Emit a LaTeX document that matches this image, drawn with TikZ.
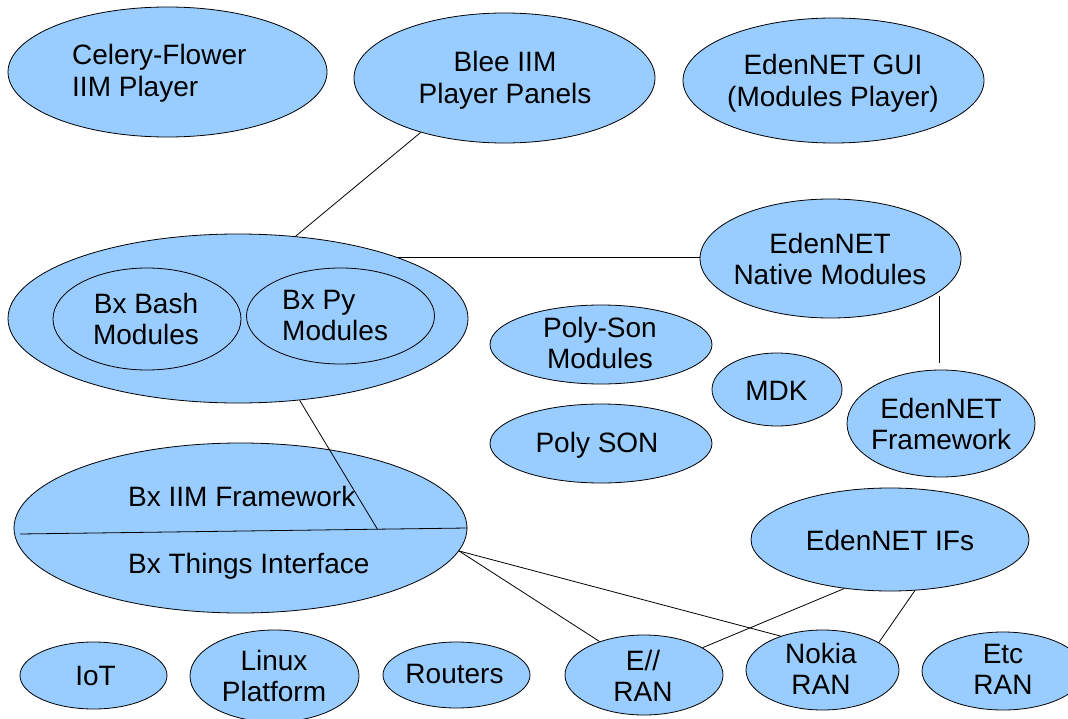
\documentclass[tikz,border=0pt]{standalone}
\usepackage{fontspec}
\setmainfont{Liberation Sans}
\usetikzlibrary{shapes.geometric,calc}
\definecolor{bubblue}{HTML}{99CCFF}
\begin{document}
\begin{tikzpicture}[x=1bp,y=-1bp,
  bub/.style={ellipse, draw=black, line width=0.8bp, fill=bubblue, inner sep=0pt},
  lbl/.style={inner sep=0pt, font=\fontsize{28bp}{31.5bp}\selectfont, align=center, anchor=base},
  lbll/.style={lbl, align=left, anchor=base west},
  conn/.style={draw=black, line width=0.8bp}]
\useasboundingbox (0,0) rectangle (1068,719);
\fill[white] (0,0) rectangle (1068,719);

% top row (text positions are at the baseline of the last line)
\node[bub, minimum width=319bp, minimum height=130bp] (celery) at (167.5,72) {};
\node[lbll] (celery-t) at (72,96.5) {Celery-Flower\\IIM Player};
\node[bub, minimum width=301bp, minimum height=130bp] (blee) at (504.5,78) {};
\node[lbl] (blee-t) at (505,103.5) {Blee IIM\\Player Panels};
\node[bub, minimum width=301bp, minimum height=125bp] (gui) at (833.5,80.5) {};
\node[lbl] (gui-t) at (833,106.5) {EdenNET GUI\\(Modules Player)};

% Bx modules
\node[bub, minimum width=460bp, minimum height=169bp] (bxmods) at (238,318.5) {};
\node[bub, minimum width=188bp, minimum height=102bp] (bash) at (147,319) {};
\node[lbl] (bash-t) at (146,344.5) {Bx Bash\\Modules};
\node[bub, minimum width=188bp, minimum height=96bp] (py) at (340.5,316) {};
\node[lbll] (py-t) at (282,340.5) {Bx Py\\Modules};

% EdenNET side
\node[bub, minimum width=261bp, minimum height=119bp] (native) at (830.5,258.5) {};
\node[lbl] (native-t) at (830,284.5) {EdenNET\\Native Modules};
\node[bub, minimum width=222bp, minimum height=79bp] (psm) at (601,344.5) {};
\node[lbl] (psm-t) at (600,368.5) {Poly-Son\\Modules};
\node[bub, minimum width=130bp, minimum height=73bp] (mdk) at (777,389.5) {};
\node[lbl] (mdk-t) at (776.5,400) {MDK};
\node[bub, minimum width=222bp, minimum height=79bp] (polyson) at (601,443.5) {};
\node[lbl] (polyson-t) at (597,452) {Poly SON};
\node[bub, minimum width=188bp, minimum height=107bp] (edenfw) at (941,423.5) {};
\node[lbl] (edenfw-t) at (941,449.5) {EdenNET\\Framework};

% Bx IIM framework
\node[bub, minimum width=453bp, minimum height=170bp] (bxiim) at (240.5,528) {};
\node[lbll] (bxiim-t1) at (128,506) {Bx IIM Framework};
\node[lbll] (bxiim-t2) at (128,573) {Bx Things Interface};
\node[bub, minimum width=278bp, minimum height=103bp] (ifs) at (890,539.5) {};
\node[lbl] (ifs-t) at (890,550) {EdenNET IFs};

% bottom row
\node[bub, minimum width=147bp, minimum height=67bp] (iot) at (93.5,675.5) {};
\node[lbl] (iot-t) at (95.5,685) {IoT};
\node[bub, minimum width=169bp, minimum height=92bp] (linux) at (274.5,676) {};
\node[lbl] (linux-t) at (274,701.5) {Linux\\Platform};
\node[bub, minimum width=147bp, minimum height=66bp] (routers) at (456.5,675) {};
\node[lbl] (routers-t) at (454.5,683) {Routers};
\node[bub, minimum width=158bp, minimum height=80bp] (eran) at (644,675) {};
\node[lbl] (eran-t) at (643,701.5) {E//\\RAN};
\node[bub, minimum width=153bp, minimum height=80bp] (nokia) at (822.5,670) {};
\node[lbl] (nokia-t) at (821,694.5) {Nokia\\RAN};
\node[bub, minimum width=162bp, minimum height=78bp] (etc) at (1003,671) {};
\node[lbl] (etc-t) at (1003,694.5) {Etc\\RAN};

% connectors
\coordinate (divL) at (20,534);
\draw[conn] (divL) -- (bxiim.east);
\draw[conn] (blee.213.7) -- (bxmods.55);
\draw[conn] (bxmods.21) -- (bxmods.21 -| native.west);
\draw[conn] ($(native.-17.5)+(0,4)$) -- ($(native.-17.5 |- edenfw.north)+(0,-7)$);
\draw[conn] (bxmods.-53) -- ($(divL)!0.799!(bxiim.east)$);
\draw[conn] (bxiim.-6.3) -- (eran.143.5);
\draw[conn] (bxiim.-6.3) -- (nokia.141.3);
\draw[conn] (ifs.227) -- (eran.25.7);
\draw[conn] (ifs.-64.5) -- (nokia.26.4);
\end{tikzpicture}
\end{document}
